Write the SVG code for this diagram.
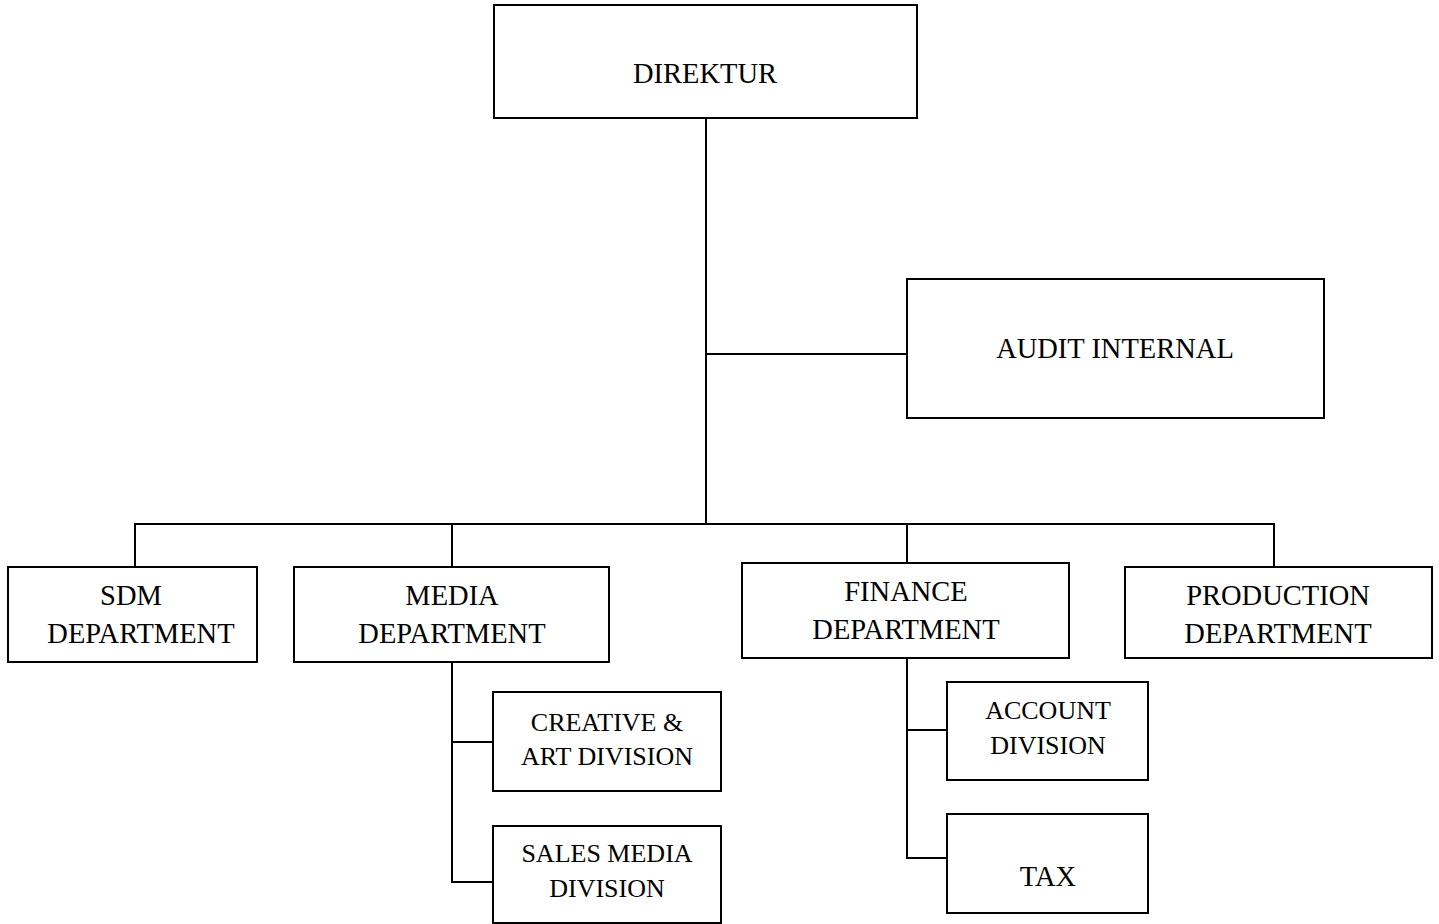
<svg xmlns="http://www.w3.org/2000/svg" width="1439" height="924" viewBox="0 0 1439 924">
<style>
.box{fill:#fff;stroke:#000;stroke-width:2}
.ln{fill:none;stroke:#000;stroke-width:2}
text{font-family:"Liberation Serif","Times New Roman",serif;font-size:28.5px;fill:#000;text-anchor:middle}
.s{font-size:26px}
</style>
<rect width="1439" height="924" fill="#fff"/>
<g id="connectors">
<path class="ln" d="M706,118 V524"/>
<path class="ln" d="M706,354 H907"/>
<path class="ln" d="M135,567 V524 H1274 V567"/>
<path class="ln" d="M452,524 V567"/>
<path class="ln" d="M907,524 V563"/>
<path class="ln" d="M452,662 V882 H493"/>
<path class="ln" d="M452,742 H493"/>
<path class="ln" d="M907,658 V858 H947"/>
<path class="ln" d="M907,730 H947"/>
</g>
<g id="direktur"><rect class="box" x="494" y="5" width="423" height="113"/><text x="705" y="83">DIREKTUR</text></g>
<g id="audit"><rect class="box" x="907" y="279" width="417" height="139"/><text x="1115" y="358">AUDIT INTERNAL</text></g>
<g id="sdm"><rect class="box" x="8" y="567" width="249" height="95"/><text x="131" y="605">SDM</text><text x="141" y="643">DEPARTMENT</text></g>
<g id="media"><rect class="box" x="294" y="567" width="315" height="95"/><text x="452" y="605">MEDIA</text><text x="452" y="643">DEPARTMENT</text></g>
<g id="finance"><rect class="box" x="742" y="563" width="327" height="95"/><text x="906" y="601">FINANCE</text><text x="906" y="639">DEPARTMENT</text></g>
<g id="production"><rect class="box" x="1125" y="567" width="307" height="91"/><text x="1278" y="605">PRODUCTION</text><text x="1278" y="643">DEPARTMENT</text></g>
<g id="creative"><rect class="box" x="493" y="692" width="228" height="99"/><text class="s" x="607" y="731">CREATIVE &amp;</text><text class="s" x="607" y="765">ART DIVISION</text></g>
<g id="sales"><rect class="box" x="493" y="826" width="228" height="97"/><text class="s" x="607" y="862">SALES MEDIA</text><text class="s" x="607" y="897">DIVISION</text></g>
<g id="account"><rect class="box" x="947" y="682" width="201" height="98"/><text class="s" x="1048" y="719">ACCOUNT</text><text class="s" x="1048" y="754">DIVISION</text></g>
<g id="tax"><rect class="box" x="947" y="814" width="201" height="99"/><text x="1048" y="886">TAX</text></g>
</svg>
